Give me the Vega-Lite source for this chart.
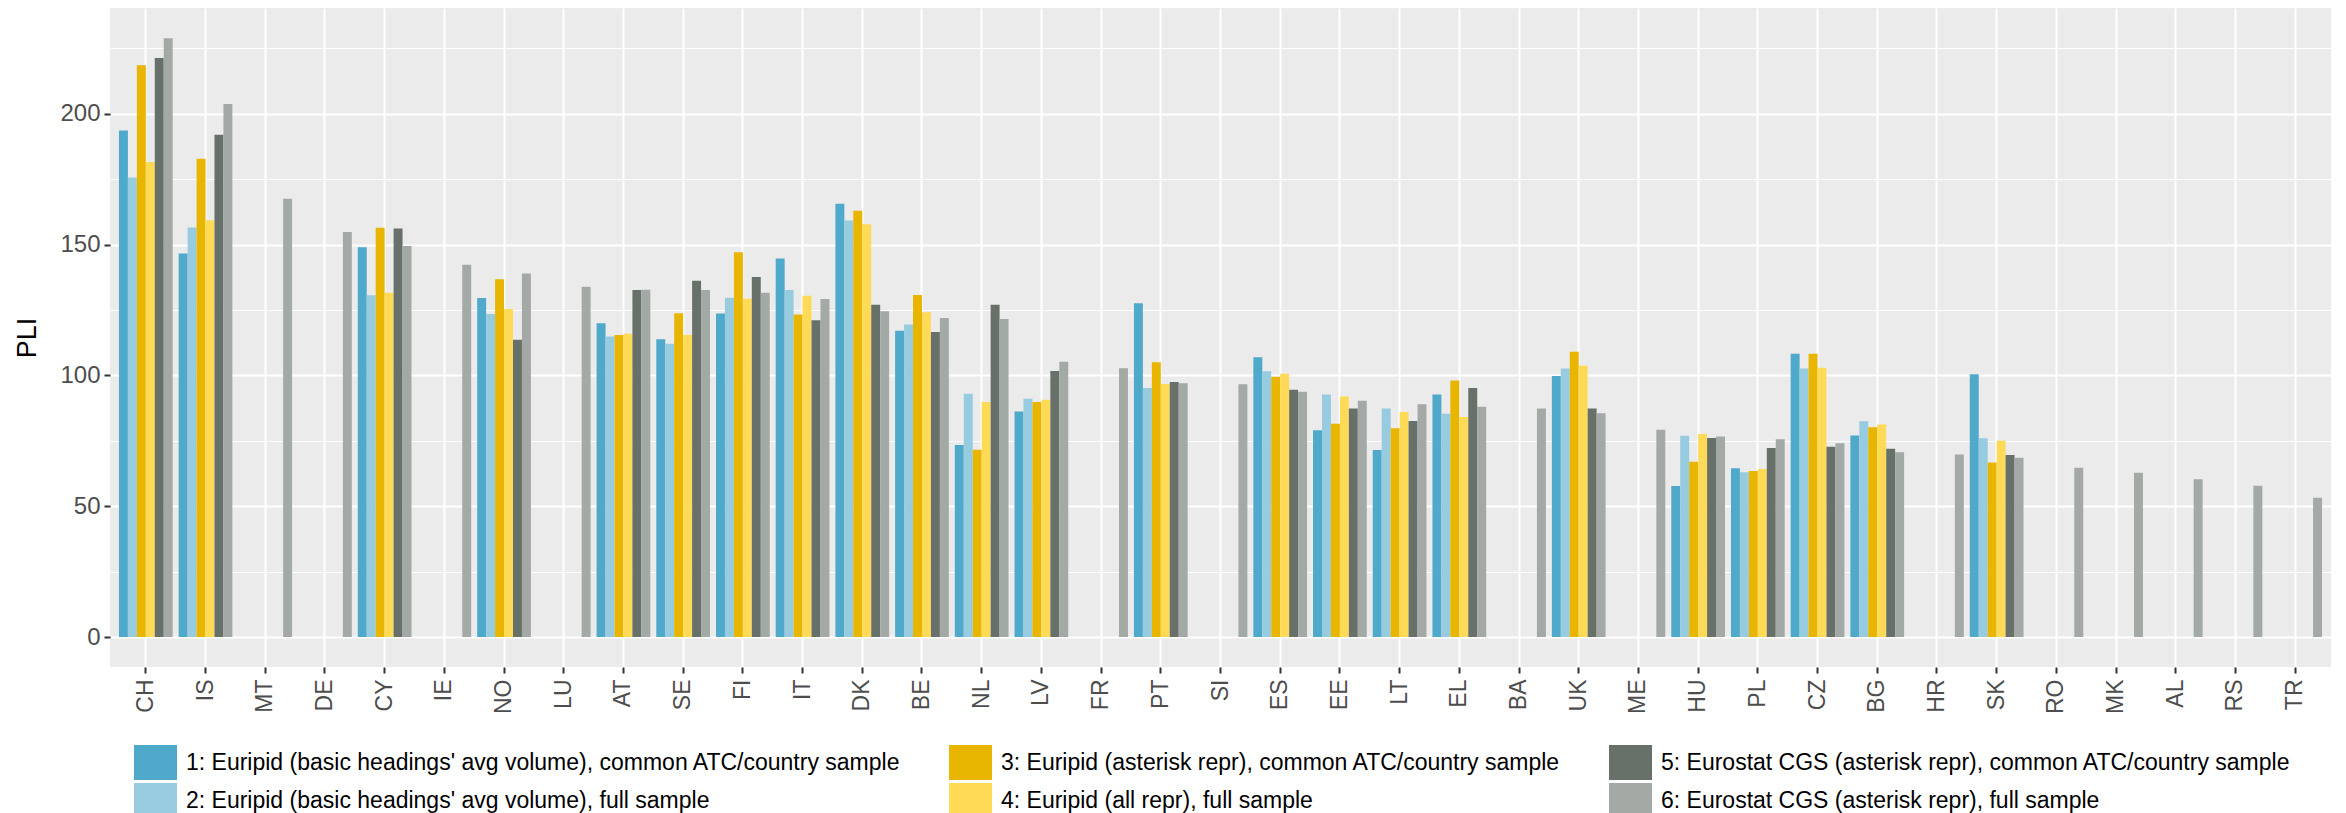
{
  "$schema": "https://vega.github.io/schema/vega-lite/v6.json",
  "width": 2221,
  "height": 659,
  "autosize": {"type": "none"},
  "padding": {"left": 110, "top": 8, "right": 15, "bottom": 146},
  "background": "white",
  "config": {
    "font": "Liberation Sans",
    "view": {"fill": "#EBEBEB", "stroke": null},
    "axis": {"domain": false, "gridColor": "white", "tickColor": "#333333", "labelColor": "#4D4D4D", "labelFont": "Liberation Sans", "titleFont": "Liberation Sans"},
    "legend": {"labelFont": "Liberation Sans"}
  },
  "data": {"values": [
    {"c":"CH","s":1,"v":193.6},{"c":"CH","s":2,"v":175.6},{"c":"CH","s":3,"v":218.5},{"c":"CH","s":4,"v":181.5},{"c":"CH","s":5,"v":221.3},{"c":"CH","s":6,"v":228.8},
    {"c":"IS","s":1,"v":146.6},{"c":"IS","s":2,"v":156.5},{"c":"IS","s":3,"v":182.8},{"c":"IS","s":4,"v":159.3},{"c":"IS","s":5,"v":192.0},{"c":"IS","s":6,"v":203.7},
    {"c":"MT","s":6,"v":167.5},
    {"c":"DE","s":6,"v":154.8},
    {"c":"CY","s":1,"v":149.0},{"c":"CY","s":2,"v":130.6},{"c":"CY","s":3,"v":156.4},{"c":"CY","s":4,"v":131.6},{"c":"CY","s":5,"v":156.1},{"c":"CY","s":6,"v":149.4},
    {"c":"IE","s":6,"v":142.3},
    {"c":"NO","s":1,"v":129.6},{"c":"NO","s":2,"v":123.5},{"c":"NO","s":3,"v":136.7},{"c":"NO","s":4,"v":125.4},{"c":"NO","s":5,"v":113.6},{"c":"NO","s":6,"v":138.9},
    {"c":"LU","s":6,"v":133.9},
    {"c":"AT","s":1,"v":119.9},{"c":"AT","s":2,"v":114.9},{"c":"AT","s":3,"v":115.4},{"c":"AT","s":4,"v":115.9},{"c":"AT","s":5,"v":132.6},{"c":"AT","s":6,"v":132.7},
    {"c":"SE","s":1,"v":113.8},{"c":"SE","s":2,"v":112.1},{"c":"SE","s":3,"v":123.7},{"c":"SE","s":4,"v":115.4},{"c":"SE","s":5,"v":136.2},{"c":"SE","s":6,"v":132.6},
    {"c":"FI","s":1,"v":123.6},{"c":"FI","s":2,"v":129.7},{"c":"FI","s":3,"v":147.1},{"c":"FI","s":4,"v":129.3},{"c":"FI","s":5,"v":137.6},{"c":"FI","s":6,"v":131.6},
    {"c":"IT","s":1,"v":144.7},{"c":"IT","s":2,"v":132.6},{"c":"IT","s":3,"v":123.3},{"c":"IT","s":4,"v":130.4},{"c":"IT","s":5,"v":121.1},{"c":"IT","s":6,"v":129.2},
    {"c":"DK","s":1,"v":165.6},{"c":"DK","s":2,"v":159.2},{"c":"DK","s":3,"v":162.9},{"c":"DK","s":4,"v":157.8},{"c":"DK","s":5,"v":127.0},{"c":"DK","s":6,"v":124.5},
    {"c":"BE","s":1,"v":117.1},{"c":"BE","s":2,"v":119.4},{"c":"BE","s":3,"v":130.7},{"c":"BE","s":4,"v":124.1},{"c":"BE","s":5,"v":116.6},{"c":"BE","s":6,"v":121.9},
    {"c":"NL","s":1,"v":73.4},{"c":"NL","s":2,"v":93.0},{"c":"NL","s":3,"v":71.6},{"c":"NL","s":4,"v":89.8},{"c":"NL","s":5,"v":127.0},{"c":"NL","s":6,"v":121.5},
    {"c":"LV","s":1,"v":86.2},{"c":"LV","s":2,"v":91.1},{"c":"LV","s":3,"v":89.8},{"c":"LV","s":4,"v":90.7},{"c":"LV","s":5,"v":101.7},{"c":"LV","s":6,"v":105.2},
    {"c":"FR","s":6,"v":102.7},
    {"c":"PT","s":1,"v":127.6},{"c":"PT","s":2,"v":95.2},{"c":"PT","s":3,"v":105.0},{"c":"PT","s":4,"v":96.7},{"c":"PT","s":5,"v":97.5},{"c":"PT","s":6,"v":97.0},
    {"c":"SI","s":6,"v":96.6},
    {"c":"ES","s":1,"v":106.9},{"c":"ES","s":2,"v":101.6},{"c":"ES","s":3,"v":99.5},{"c":"ES","s":4,"v":100.6},{"c":"ES","s":5,"v":94.5},{"c":"ES","s":6,"v":93.7},
    {"c":"EE","s":1,"v":79.0},{"c":"EE","s":2,"v":92.7},{"c":"EE","s":3,"v":81.5},{"c":"EE","s":4,"v":91.9},{"c":"EE","s":5,"v":87.3},{"c":"EE","s":6,"v":90.3},
    {"c":"LT","s":1,"v":71.5},{"c":"LT","s":2,"v":87.3},{"c":"LT","s":3,"v":79.8},{"c":"LT","s":4,"v":86.0},{"c":"LT","s":5,"v":82.6},{"c":"LT","s":6,"v":89.0},
    {"c":"EL","s":1,"v":92.7},{"c":"EL","s":2,"v":85.3},{"c":"EL","s":3,"v":98.0},{"c":"EL","s":4,"v":84.1},{"c":"EL","s":5,"v":95.2},{"c":"EL","s":6,"v":88.0},
    {"c":"BA","s":6,"v":87.3},
    {"c":"UK","s":1,"v":99.8},{"c":"UK","s":2,"v":102.6},{"c":"UK","s":3,"v":109.0},{"c":"UK","s":4,"v":103.7},{"c":"UK","s":5,"v":87.3},{"c":"UK","s":6,"v":85.5},
    {"c":"ME","s":6,"v":79.2},
    {"c":"HU","s":1,"v":57.7},{"c":"HU","s":2,"v":76.9},{"c":"HU","s":3,"v":67.0},{"c":"HU","s":4,"v":77.6},{"c":"HU","s":5,"v":76.1},{"c":"HU","s":6,"v":76.6},
    {"c":"PL","s":1,"v":64.5},{"c":"PL","s":2,"v":63.0},{"c":"PL","s":3,"v":63.5},{"c":"PL","s":4,"v":64.2},{"c":"PL","s":5,"v":72.2},{"c":"PL","s":6,"v":75.6},
    {"c":"CZ","s":1,"v":108.3},{"c":"CZ","s":2,"v":102.6},{"c":"CZ","s":3,"v":108.3},{"c":"CZ","s":4,"v":102.9},{"c":"CZ","s":5,"v":72.7},{"c":"CZ","s":6,"v":74.1},
    {"c":"BG","s":1,"v":77.0},{"c":"BG","s":2,"v":82.5},{"c":"BG","s":3,"v":80.2},{"c":"BG","s":4,"v":81.2},{"c":"BG","s":5,"v":72.0},{"c":"BG","s":6,"v":70.6},
    {"c":"HR","s":6,"v":69.8},
    {"c":"SK","s":1,"v":100.4},{"c":"SK","s":2,"v":76.0},{"c":"SK","s":3,"v":66.7},{"c":"SK","s":4,"v":75.0},{"c":"SK","s":5,"v":69.6},{"c":"SK","s":6,"v":68.5},
    {"c":"RO","s":6,"v":64.7},
    {"c":"MK","s":6,"v":62.8},
    {"c":"AL","s":6,"v":60.3},
    {"c":"RS","s":6,"v":57.8},
    {"c":"TR","s":6,"v":53.2}
  ]},
  "mark": {"type": "bar"},
  "encoding": {
    "x": {
      "field": "c", "type": "nominal", "sort": null,
      "scale": {"paddingInner": 0, "paddingOuter": 0.1},
      "axis": {"title": null, "labelAngle": 270, "labelAlign": "right", "labelBaseline": "middle", "labelFontSize": 23, "labelPadding": 6, "tickSize": 6, "tickWidth": 2, "grid": true, "gridWidth": 2, "bandPosition": 0.5}
    },
    "xOffset": {"field": "s", "type": "nominal", "scale": {"domain": [1,2,3,4,5,6], "paddingInner": 0, "paddingOuter": 0.3333}},
    "y": {
      "field": "v", "type": "quantitative",
      "scale": {"domain": [-11.45, 240.4], "nice": false, "zero": false},
      "axis": {
        "title": "PLI", "titleFontSize": 27, "titleFontWeight": "normal", "titleColor": "black",
        "titleAngle": 270, "titleX": -83, "titleY": 329.5, "titleAlign": "center", "titleBaseline": "middle",
        "values": [0,25,50,75,100,125,150,175,200,225],
        "labelExpr": "datum.value % 50 === 0 ? datum.label : ''",
        "gridWidth": {"condition": {"test": "datum.value % 50 === 0", "value": 2}, "value": 1},
        "tickColor": {"condition": {"test": "datum.value % 50 === 0", "value": "#333333"}, "value": "transparent"},
        "tickSize": 6, "tickWidth": 2, "labelFontSize": 24, "labelPadding": 4
      }
    },
    "y2": {"datum": 0},
    "color": {
      "field": "s", "type": "nominal",
      "scale": {"domain": [1,2,3,4,5,6], "range": ["#4EA9CB", "#97CBE0", "#E8B500", "#FFDA57", "#687169", "#A3A9A5"]},
      "legend": {
        "orient": "none", "legendX": 28, "legendY": 737, "title": null,
        "columns": 3, "columnPadding": 47, "rowPadding": 3,
        "labelFontSize": 23, "labelColor": "black", "labelLimit": 2000, "labelOffset": 13,
        "symbolType": "M-1.229,-1H1.229V1H-1.229Z", "symbolSize": 1225, "symbolStrokeWidth": 0, "symbolOpacity": 1,
        "labelExpr": "['', \"1: Euripid (basic headings' avg volume), common ATC/country sample\", \"2: Euripid (basic headings' avg volume), full sample\", \"3: Euripid (asterisk repr), common ATC/country sample\", \"4: Euripid (all repr), full sample\", \"5: Eurostat CGS (asterisk repr), common ATC/country sample\", \"6: Eurostat CGS (asterisk repr), full sample\"][datum.value]"
      }
    }
  }
}
